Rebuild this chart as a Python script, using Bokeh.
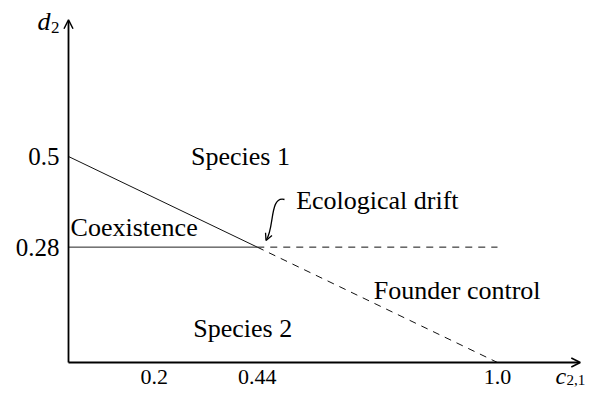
from bokeh.plotting import figure
from bokeh.models import Arrow, OpenHead, Range1d
from bokeh.core.properties import value
from bokeh.embed import file_html
from bokeh.resources import INLINE

# ---- data ----
boundary_c = [0.0, 0.44, 1.0]
boundary_d = [0.5, 0.28, 0.0]
threshold_d = 0.28
threshold_c = [0.0, 0.44, 1.0]
x_ticks = [0.2, 0.44, 1.0]
x_tick_labels = ["0.2", "0.44", "1.0"]
y_ticks = [0.28, 0.5]
y_tick_labels = ["0.28", "0.5"]
region_labels = ["Species 1", "Coexistence", "Ecological drift", "Founder control", "Species 2"]
region_c = [0.401, 0.153, 0.720, 0.906, 0.406]
region_d = [0.500, 0.328, 0.393, 0.175, 0.083]
x_axis_end = 1.193
y_axis_end = 0.832

# ---- layout ----
W, H = 587, 388
X0_PX, Y0_PX = 68, 362     # pixel position of the origin in the figure
SX, SY = 429, 412          # pixels per data unit


def font():
    return value("Liberation Serif")


p = figure(width=W, height=H,
           x_range=Range1d(-X0_PX / SX, (W - X0_PX) / SX),
           y_range=Range1d(-(H - Y0_PX) / SY, Y0_PX / SY),
           output_backend="svg", toolbar_location=None,
           x_axis_location=None, y_axis_location=None,
           min_border=0, min_border_left=0, min_border_right=0,
           min_border_top=0, min_border_bottom=0)
p.grid.visible = False
p.outline_line_color = None
p.background_fill_color = "white"


def dc(px):
    return (px - X0_PX) / SX


def dd(py):
    return (Y0_PX - py) / SY


# axes with arrow heads
p.add_layout(Arrow(x_start=0, y_start=0, x_end=x_axis_end, y_end=0,
                   line_width=1.8, line_color="black",
                   end=OpenHead(size=9, line_width=1.5, line_color="black")))
p.add_layout(Arrow(x_start=0, y_start=0, x_end=0, y_end=y_axis_end,
                   line_width=1.8, line_color="black",
                   end=OpenHead(size=9, line_width=1.5, line_color="black")))

# boundary lines
p.line(boundary_c[:2], boundary_d[:2], line_color="#111111", line_width=1)
p.line(boundary_c[1:], boundary_d[1:], line_color="#111111", line_width=1, line_dash="7 6")
p.line(threshold_c[:2], [threshold_d] * 2, line_color="#222222", line_width=1)
p.line(threshold_c[1:], [threshold_d] * 2, line_color="#111111", line_width=1, line_dash="7 6")

# tick labels
p.text(x=x_ticks, y=[0] * len(x_ticks), text=x_tick_labels, y_offset=14,
       text_font=font(), text_font_size="22px", text_align="center",
       text_baseline="middle")
p.text(x=[0] * len(y_ticks), y=y_ticks, text=y_tick_labels, x_offset=-9,
       text_font=font(), text_font_size="25px", text_align="right",
       text_baseline="middle")

# axis titles
p.text(x=[dc(37)], y=[dd(21)], text=["d"], text_font=font(),
       text_font_size="26px", text_font_style="italic", text_align="left",
       text_baseline="middle")
p.text(x=[dc(50.5)], y=[dd(27)], text=["2"], text_font=font(),
       text_font_size="17px", text_align="left",
       text_baseline="middle")
p.text(x=[dc(555)], y=[0], y_offset=13, text=["c"], text_font=font(),
       text_font_size="24px", text_font_style="italic", text_align="left",
       text_baseline="middle")
p.text(x=[dc(566)], y=[0], y_offset=17, text=["2,1"], text_font=font(),
       text_font_size="15px", text_align="left",
       text_baseline="middle")

# region labels
p.text(x=region_c, y=region_d, text=region_labels, text_font=font(),
       text_font_size="26px", text_align="center", text_baseline="middle")

# curved pointer to the triple point
p.bezier(x0=[dc(284)], y0=[dd(199)], x1=[dc(266)], y1=[dd(239)],
         cx0=[dc(269)], cy0=[dd(195)], cx1=[dc(274)], cy1=[dd(227)],
         line_color="black", line_width=1.3)
p.add_layout(Arrow(x_start=dc(268.5), y_start=dd(233), x_end=dc(265.5), y_end=dd(240),
                   line_width=0, line_alpha=0,
                   end=OpenHead(size=7, line_width=1.3, line_color="black")))

open("out.html", "w").write(file_html(p, INLINE))
